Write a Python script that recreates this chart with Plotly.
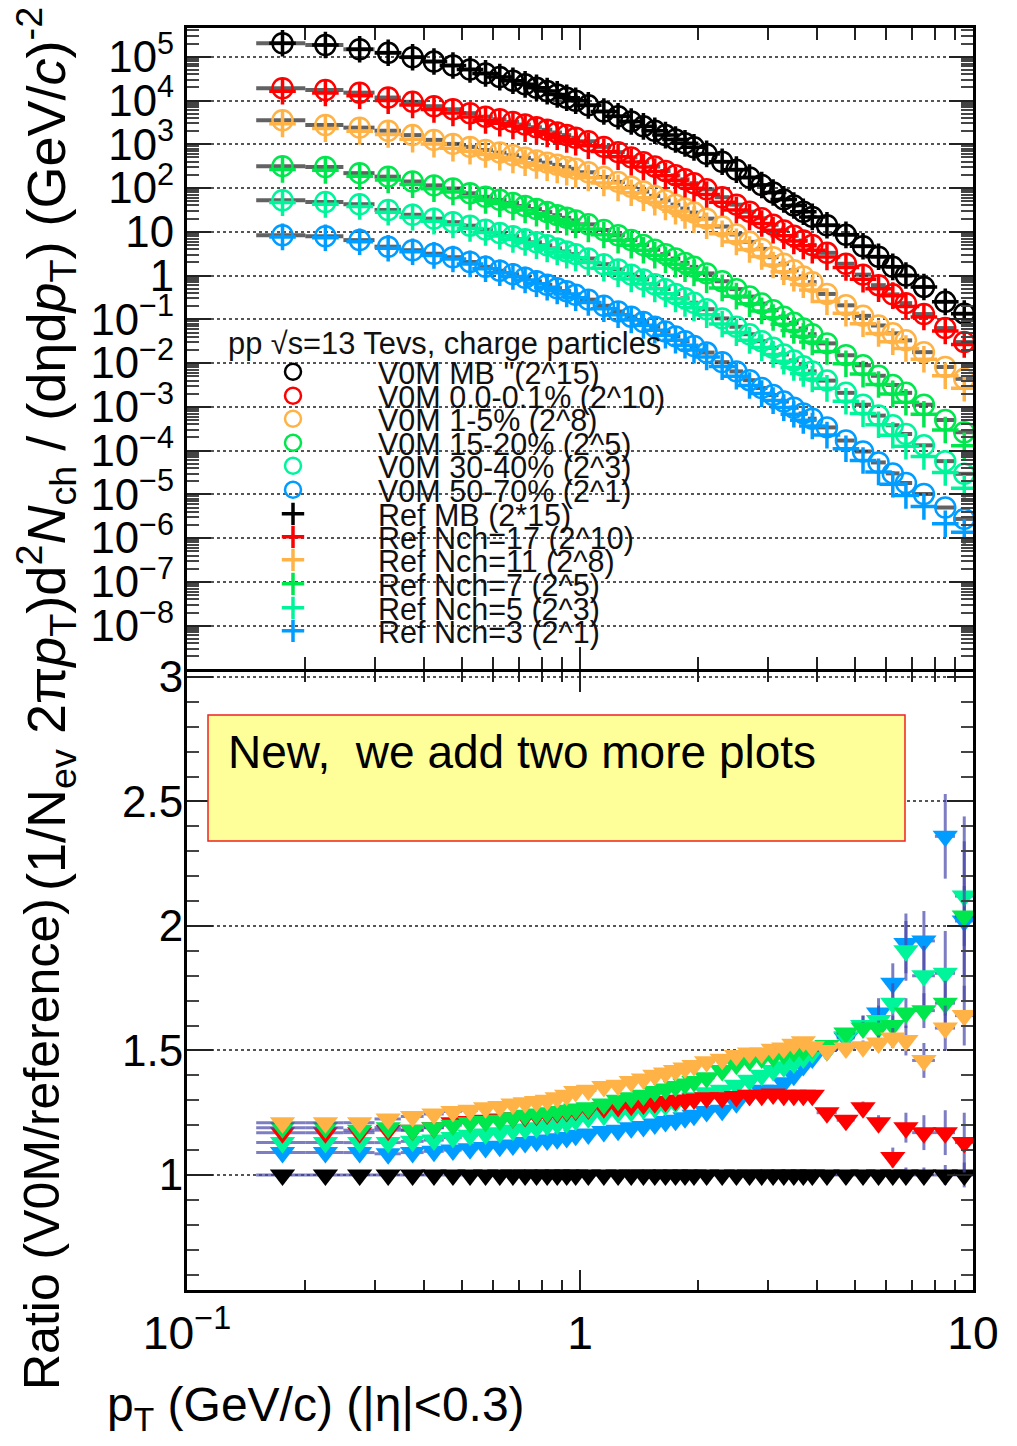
import plotly.graph_objects as go

FONT = "Liberation Sans, Arial, Helvetica, sans-serif"

# ---------------- data ----------------
pt = [0.175, 0.225, 0.275, 0.325, 0.375, 0.425, 0.475, 0.525, 0.575, 0.625, 0.675, 0.725,
      0.775, 0.825, 0.875, 0.925, 0.975, 1.05, 1.15, 1.25, 1.35, 1.45, 1.55, 1.65, 1.75,
      1.85, 1.95, 2.1, 2.3, 2.5, 2.7, 2.9, 3.1, 3.3, 3.5, 3.7, 3.9, 4.25, 4.75, 5.25, 5.75,
      6.25, 6.75, 7.5, 8.5, 9.5]
pt_halfwidth = [0.025] * 17 + [0.05] * 10 + [0.1] * 10 + [0.25] * 6 + [0.5] * 3

vom_labels = ['V0M MB "(2^15)', 'V0M 0.0-0.1% (2^10)', 'V0M 1-5% (2^8)',
              'V0M 15-20% (2^5)', 'V0M 30-40% (2^3)', 'V0M 50-70% (2^1)']
ref_labels = ['Ref MB (2*15)', 'Ref Nch=17 (2^10)', 'Ref Nch=11 (2^8)',
              'Ref Nch=7 (2^5)', 'Ref Nch=5 (2^3)', 'Ref Nch=3 (2^1)']
header_text = "pp √s=13 Tevs, charge particles"

vom_mb = [2.04e5, 1.86e5, 1.48e5, 1.23e5, 9.77e4, 7.76e4, 6.31e4, 5.13e4, 4.17e4, 3.43e4, 2.82e4,
          2.34e4, 1.95e4, 1.64e4, 1.38e4, 1.16e4, 9.89e3, 7.76e3, 5.62e3, 4.37e3, 3.31e3, 2.57e3,
          2.04e3, 1.62e3, 1.29e3, 1.05e3, 851, 603, 398, 263, 174, 117, 79.4, 55.0, 39.8, 28.8,
          21.9, 14.1, 8.51, 4.68, 2.69, 1.58, 1.00, 0.550, 0.251, 0.135]
vom_0_01 = [1.91e4, 1.74e4, 1.51e4, 1.17e4, 9.33e3, 7.41e3, 6.31e3, 5.13e3, 4.27e3, 3.72e3, 3.24e3,
            2.82e3, 2.45e3, 2.14e3, 1.86e3, 1.62e3, 1.41e3, 1.17e3, 871, 661, 501, 389, 309, 245,
            195, 158, 129, 93.3, 61.7, 41.7, 28.8, 20.4, 14.5, 10.7, 8.13, 6.31, 5.01, 3.31, 1.86,
            1.05, 0.603, 0.372, 0.234, 0.132, 0.0631, 0.0302]
vom_1_5 = [3.55e3, 2.75e3, 2.40e3, 2.04e3, 1.62e3, 1.26e3, 1.02e3, 871, 741, 646, 562, 490, 427,
           380, 339, 302, 275, 229, 178, 138, 107, 83.2, 66.1, 52.5, 41.7, 33.9, 27.5, 20.0, 13.2,
           8.71, 5.89, 4.07, 2.63, 1.86, 1.32, 0.955, 0.708, 0.380, 0.209, 0.120, 0.0724, 0.0479,
           0.0331, 0.0178, 0.00813, 0.00437]
vom_15_20 = [316, 302, 219, 182, 141, 115, 97.7, 75.9, 63.1, 53.7, 45.7, 38.9, 33.1, 28.2, 24.0,
             20.9, 18.2, 14.8, 11.0, 8.32, 6.46, 5.01, 3.89, 3.09, 2.45, 1.95, 1.58, 1.12, 0.741,
             0.490, 0.331, 0.229, 0.162, 0.115, 0.0832, 0.0617, 0.0457, 0.0282, 0.0151, 0.00891,
             0.00513, 0.00316, 0.00209, 0.00112, 0.000501, 0.000263]
vom_30_40 = [52.5, 47.9, 42.7, 31.6, 24.5, 20.0, 16.6, 13.8, 11.2, 9.33, 7.94, 6.76, 5.75, 4.90,
             4.17, 3.55, 3.09, 2.45, 1.82, 1.38, 1.05, 0.813, 0.631, 0.490, 0.380, 0.302, 0.240,
             0.170, 0.105, 0.0676, 0.0457, 0.0316, 0.0224, 0.0158, 0.0115, 0.00851, 0.00646,
             0.00398, 0.00209, 0.00112, 0.000631, 0.000380, 0.000240, 0.000132, 5.75e-5, 2.95e-5]
vom_50_70 = [8.32, 7.94, 6.46, 4.57, 3.80, 3.16, 2.63, 2.04, 1.58, 1.29, 1.07, 0.891, 0.741, 0.617,
             0.513, 0.437, 0.363, 0.282, 0.204, 0.151, 0.115, 0.0871, 0.0676, 0.0525, 0.0407,
             0.0316, 0.0245, 0.0174, 0.0105, 0.00646, 0.00407, 0.00269, 0.00186, 0.00132,
             0.000955, 0.000708, 0.000537, 0.000339, 0.000170, 9.55e-5, 5.37e-5, 3.02e-5,
             1.82e-5, 1.02e-5, 5.01e-6, 2.75e-6]

ref_mb = [2.04e5, 1.86e5, 1.48e5, 1.23e5, 9.77e4, 7.76e4, 6.31e4, 5.13e4, 4.17e4, 3.43e4, 2.82e4,
          2.34e4, 1.95e4, 1.64e4, 1.38e4, 1.16e4, 9.89e3, 7.76e3, 5.62e3, 4.37e3, 3.31e3, 2.57e3,
          2.04e3, 1.62e3, 1.29e3, 1.05e3, 851, 603, 398, 263, 174, 117, 79.4, 55.0, 39.8, 28.8,
          21.9, 14.1, 8.51, 4.68, 2.69, 1.58, 1.00, 0.550, 0.251, 0.135]
ref_nch17 = [1.63e4, 1.49e4, 1.29e4, 9.95e3, 7.91e3, 6.22e3, 5.21e3, 4.22e3, 3.50e3, 3.03e3, 2.63e3,
             2.28e3, 1.98e3, 1.72e3, 1.49e3, 1.29e3, 1.12e3, 929, 685, 518, 392, 303, 239, 190, 150,
             122, 98.6, 71.3, 47.1, 31.7, 21.8, 15.5, 10.9, 8.11, 6.15, 4.78, 3.79, 2.65, 1.53,
             0.824, 0.498, 0.348, 0.197, 0.113, 0.0540, 0.0267]
ref_nch11 = [2.93e3, 2.28e3, 1.98e3, 1.67e3, 1.31e3, 1.01e3, 815, 692, 583, 506, 438, 379, 330, 292,
             259, 229, 207, 171, 131, 101, 78.0, 60.1, 47.2, 37.2, 29.4, 23.7, 19.1, 13.7, 9.00,
             5.89, 3.95, 2.74, 1.75, 1.23, 0.865, 0.622, 0.468, 0.254, 0.138, 0.0794, 0.0473,
             0.0309, 0.0215, 0.0122, 0.00512, 0.00266]
ref_nch7 = [265, 254, 185, 153, 120, 96.4, 81.5, 62.7, 51.9, 44.1, 37.2, 31.4, 26.6, 22.5, 19.1,
            16.6, 14.4, 11.6, 8.53, 6.40, 4.93, 3.79, 2.92, 2.30, 1.81, 1.43, 1.15, 0.807, 0.522,
            0.339, 0.227, 0.156, 0.110, 0.0773, 0.0556, 0.0411, 0.0303, 0.0185, 0.00964, 0.00561,
            0.00323, 0.00198, 0.00127, 0.000676, 0.000296, 0.000129]
ref_nch5 = [46.5, 42.4, 37.8, 28.0, 21.6, 17.5, 14.4, 11.9, 9.64, 7.98, 6.73, 5.70, 4.83, 4.08,
            3.46, 2.93, 2.54, 2.00, 1.47, 1.10, 0.834, 0.643, 0.497, 0.383, 0.294, 0.232, 0.183,
            0.128, 0.0782, 0.0497, 0.0331, 0.0226, 0.0158, 0.0110, 0.00793, 0.00579, 0.00434,
            0.00265, 0.00134, 0.000701, 0.000389, 0.000225, 0.000126, 7.33e-5, 3.18e-5, 1.39e-5]
ref_nch3 = [7.64, 7.29, 5.93, 4.22, 3.49, 2.89, 2.39, 1.85, 1.43, 1.16, 0.957, 0.789, 0.653, 0.541,
            0.448, 0.379, 0.313, 0.242, 0.174, 0.128, 0.0964, 0.0729, 0.0561, 0.0432, 0.0334,
            0.0257, 0.0198, 0.0138, 0.00832, 0.00500, 0.00308, 0.00201, 0.00139, 0.000962,
            0.000682, 0.000492, 0.000366, 0.000226, 0.000110, 5.97e-5, 3.26e-5, 1.71e-5, 9.42e-6,
            5.27e-6, 2.12e-6, 1.36e-6]

ratio_mb = [1.0] * 46
ratio_0_01 = [1.17, 1.17, 1.17, 1.18, 1.18, 1.19, 1.21, 1.215, 1.22, 1.225, 1.23, 1.235, 1.24, 1.245,
              1.25, 1.255, 1.26, 1.265, 1.27, 1.275, 1.28, 1.285, 1.29, 1.295, 1.30, 1.30, 1.305,
              1.31, 1.31, 1.315, 1.32, 1.32, 1.325, 1.32, 1.32, 1.32, 1.32, 1.25, 1.22, 1.27, 1.21,
              1.07, 1.19, 1.17, 1.17, 1.13]
ratio_1_5 = [1.21, 1.21, 1.21, 1.225, 1.235, 1.245, 1.255, 1.26, 1.27, 1.275, 1.285, 1.29, 1.295,
             1.30, 1.31, 1.32, 1.335, 1.34, 1.355, 1.36, 1.375, 1.385, 1.40, 1.41, 1.42, 1.43, 1.44,
             1.455, 1.465, 1.48, 1.49, 1.49, 1.505, 1.51, 1.525, 1.535, 1.515, 1.50, 1.51, 1.515,
             1.53, 1.55, 1.54, 1.46, 1.59, 1.64]
ratio_15_20 = [1.19, 1.19, 1.18, 1.19, 1.18, 1.19, 1.20, 1.21, 1.215, 1.22, 1.23, 1.24, 1.245, 1.25,
               1.255, 1.26, 1.265, 1.27, 1.285, 1.30, 1.31, 1.32, 1.335, 1.345, 1.355, 1.365, 1.375,
               1.39, 1.42, 1.445, 1.46, 1.47, 1.475, 1.485, 1.495, 1.50, 1.51, 1.52, 1.57, 1.59,
               1.59, 1.60, 1.65, 1.66, 1.69, 2.04]
ratio_30_40 = [1.13, 1.13, 1.13, 1.13, 1.135, 1.14, 1.15, 1.16, 1.165, 1.17, 1.18, 1.185, 1.19, 1.20,
               1.205, 1.21, 1.22, 1.23, 1.24, 1.25, 1.255, 1.265, 1.27, 1.28, 1.29, 1.30, 1.31, 1.33,
               1.34, 1.36, 1.38, 1.40, 1.42, 1.435, 1.45, 1.47, 1.49, 1.50, 1.555, 1.60, 1.62, 1.69,
               1.90, 1.80, 1.81, 2.12]
ratio_50_70 = [1.09, 1.09, 1.09, 1.085, 1.09, 1.095, 1.10, 1.105, 1.11, 1.115, 1.12, 1.13, 1.135,
               1.14, 1.145, 1.15, 1.16, 1.165, 1.175, 1.18, 1.19, 1.195, 1.205, 1.215, 1.22, 1.23,
               1.24, 1.255, 1.26, 1.29, 1.32, 1.34, 1.34, 1.37, 1.40, 1.44, 1.47, 1.50, 1.55, 1.60,
               1.65, 1.77, 1.93, 1.94, 2.36, 2.02]
ratio_err_mb = [0.002] * 37 + [0.01, 0.01, 0.015, 0.02, 0.02, 0.03, 0.03, 0.04, 0.05]
ratio_err_high = [0.004] * 37 + [0.015, 0.02, 0.025, 0.03, 0.04, 0.06, 0.07, 0.09, 0.12]
ratio_err_low = [0.004] * 37 + [0.02, 0.03, 0.04, 0.06, 0.08, 0.12, 0.12, 0.17, 0.32]

colors = ['#000000', '#ff0000', '#ffb347', '#00e64d', '#00f59b', '#009cff']

vom = [vom_mb, vom_0_01, vom_1_5, vom_15_20, vom_30_40, vom_50_70]
ref = [ref_mb, ref_nch17, ref_nch11, ref_nch7, ref_nch5, ref_nch3]
ratios = [ratio_mb, ratio_0_01, ratio_1_5, ratio_15_20, ratio_30_40, ratio_50_70]
ratio_errs = [ratio_err_mb, ratio_err_high, ratio_err_high, ratio_err_high, ratio_err_low, ratio_err_low]

# ---------------- geometry (page has an 8 px body margin) ----------------
W, H = 1009, 1430
ML, MR, MT, MB_ = 179, 44, 20, 148
PW, PH = W - ML - MR, H - MT - MB_   # 786 x 1262


def PX(px):   # reference-page pixel x -> paper x
    return (px - 187) / PW


def PY(py):   # reference-page pixel y -> paper y
    return (1290 - py) / PH


def lkey(i):
    return 'legend' if i == 0 else 'legend%d' % (i + 1)


fig = go.Figure()

# ---------------- top panel: spectra ----------------
for i in range(6):
    fig.add_trace(go.Scatter(
        x=pt, y=vom[i], mode='markers', name=vom_labels[i], legend=lkey(i),
        marker=dict(symbol='circle-open', size=20, color=colors[i],
                    line=dict(width=2.5, color=colors[i])),
        error_x=dict(type='data', array=pt_halfwidth, color='rgba(45,45,45,0.75)',
                     thickness=4, width=0),
        xaxis='x', yaxis='y'))
for i in range(6):
    fig.add_trace(go.Scatter(
        x=pt, y=ref[i], mode='markers', name=ref_labels[i], legend=lkey(i + 6),
        marker=dict(symbol='cross-thin', size=19, color=colors[i],
                    line=dict(width=3.5, color=colors[i])),
        xaxis='x', yaxis='y'))

# ---------------- bottom panel: ratios ----------------
for i in [0, 5, 4, 1, 3, 2]:
    fig.add_trace(go.Scatter(
        x=pt, y=ratios[i], mode='markers', showlegend=False,
        name=vom_labels[i] + ' / ' + ref_labels[i],
        marker=dict(symbol='triangle-down', size=22, color=colors[i], line=dict(width=0)),
        error_x=dict(type='data', array=pt_halfwidth, color='rgba(70,70,170,0.7)',
                     thickness=3, width=0),
        error_y=dict(type='data', array=ratio_errs[i], color='rgba(70,70,170,0.7)',
                     thickness=3, width=0),
        xaxis='x2', yaxis='y2'))

axis_common = dict(showline=True, linecolor='black', linewidth=3, mirror='ticks',
                   ticks='inside', tickcolor='#222', tickwidth=2, zeroline=False)

fig.update_layout(
    width=W, height=H,
    margin=dict(l=ML, r=MR, t=MT, b=MB_, autoexpand=False),
    paper_bgcolor='white', plot_bgcolor='white',
    font=dict(family=FONT, color='black'),
    showlegend=True,
    xaxis=dict(type='log', range=[-1, 1], domain=[0, 1], anchor='y', showgrid=False,
               showticklabels=False, dtick=1, ticklen=22,
               minor=dict(ticks='inside', ticklen=12, dtick='D1', tickcolor='#222',
                          tickwidth=1.5, showgrid=False),
               **axis_common),
    yaxis=dict(type='log', range=[-8.99, 5.657], domain=[PY(669), 1], anchor='x',
               dtick=1, exponentformat='power', ticklen=24,
               tickfont=dict(size=35, family=FONT, color='black'), ticklabelstandoff=3,
               showgrid=True, gridcolor='#555', gridwidth=2, griddash='dot',
               minor=dict(ticks='inside', ticklen=12, dtick='D1', tickcolor='#444',
                          tickwidth=1.5, showgrid=False),
               **axis_common),
    xaxis2=dict(type='log', range=[-1, 1], domain=[0, 1], anchor='y2', showgrid=False,
                dtick=1, exponentformat='power', ticklen=20,
                tickfont=dict(size=37, family=FONT, color='black'), ticklabelstandoff=2,
                minor=dict(ticks='inside', ticklen=10, dtick='D1', tickcolor='#222',
                           tickwidth=1.5, showgrid=False),
                **axis_common),
    yaxis2=dict(range=[0.538, 3.02], domain=[0, PY(672)], anchor='x2', dtick=0.5, tick0=0,
                ticklen=26, tickfont=dict(size=44, family=FONT, color='black'),
                ticklabelstandoff=-8,
                showgrid=True, gridcolor='#555', gridwidth=2, griddash='dot',
                minor=dict(ticks='inside', ticklen=12, dtick=0.1, tickcolor='#444',
                           tickwidth=1.5, showgrid=False),
                **axis_common),
)

# one single-entry legend per row, to reproduce the tight ROOT-style row spacing
legend_rows = [372, 396, 419, 443, 466, 490, 514, 537, 560, 584, 608, 631]
for i, ry in enumerate(legend_rows):
    fig.update_layout(**{lkey(i): dict(
        x=PX(208), y=PY(ry), xanchor='left', yanchor='middle',
        bgcolor='rgba(0,0,0,0)', borderwidth=0, itemwidth=160,
        font=dict(size=30.5, family=FONT, color='#111'))})

# yellow note box
fig.add_shape(type='rect', xref='paper', yref='paper',
              x0=PX(208), x1=PX(905), y0=PY(841), y1=PY(715),
              fillcolor='#ffff99', line=dict(color='#ee2222', width=1.5), layer='above')

annotations = [
    dict(text=header_text, x=PX(226), y=PY(343), xanchor='left', yanchor='middle',
         font=dict(size=30.8, family=FONT, color='#111')),
    dict(text='New,\u00a0 we add two more plots', x=PX(226), y=PY(752), xanchor='left',
         yanchor='middle', font=dict(size=46, family=FONT, color='black')),
    dict(text='p<sub>T</sub> (GeV/c) (|η|&lt;0.3)', x=PX(105), y=PY(1408), xanchor='left',
         yanchor='middle', font=dict(size=48, family=FONT, color='black')),
    dict(text='Ratio (V0M/reference)', x=PX(42), y=PY(1392), xanchor='center',
         yanchor='bottom', textangle=-90, font=dict(size=50, family=FONT, color='black')),
    dict(text='(1/N<sub>ev</sub> 2π<i>p</i><sub>T</sub>)d<sup>2</sup><i>N</i><sub>ch</sub>'
              ' / (dηd<i>p</i><sub>T</sub>) (GeV/<i>c</i>)<sup>-2</sup>',
         x=PX(46), y=PY(893), xanchor='center', yanchor='bottom', textangle=-90,
         font=dict(size=54, family=FONT, color='black')),
]
for a in annotations:
    a.update(xref='paper', yref='paper', showarrow=False)
    fig.add_annotation(**a)

fig.write_html("out.html")
